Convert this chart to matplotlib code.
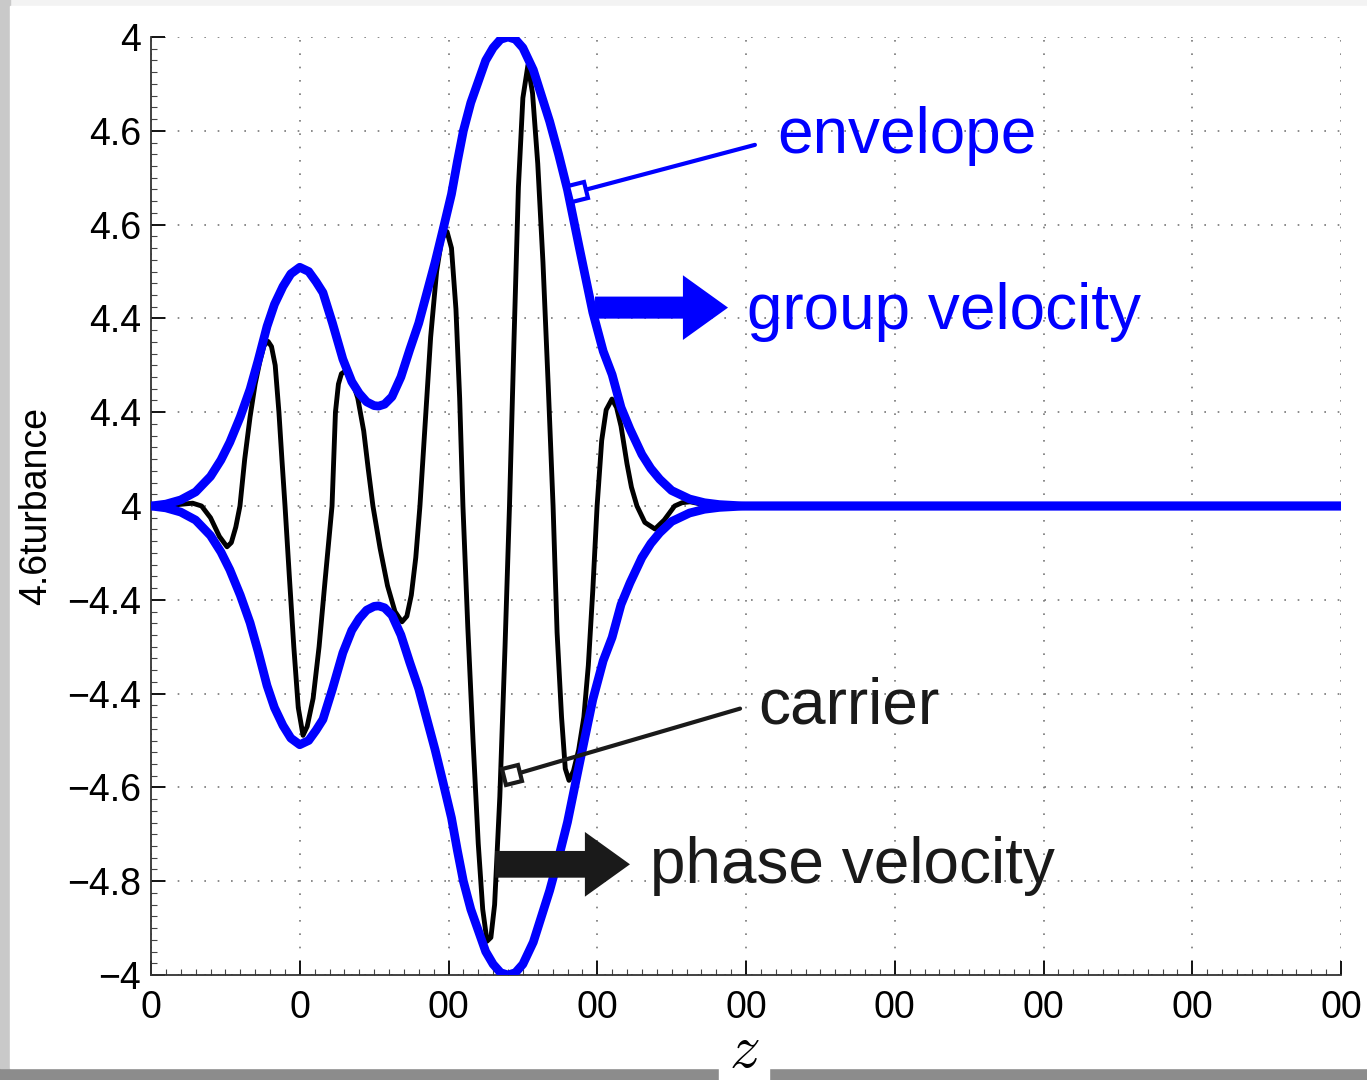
import matplotlib
matplotlib.use('Agg')
import matplotlib.pyplot as plt
from matplotlib.markers import MarkerStyle
from matplotlib.transforms import Affine2D
from matplotlib.patches import Rectangle, FancyArrow
from matplotlib.ticker import FixedLocator, AutoMinorLocator

plt.rcParams['font.family'] = ['Liberation Sans', 'DejaVu Sans']
plt.rcParams['mathtext.fontset'] = 'cm'

# upper envelope (lower one is its mirror)
env_x = [0, 1, 2, 3, 4, 4.7, 5.3, 6.0, 6.66, 7.2, 7.8, 8.3, 8.87, 9.4, 10.0, 10.6,
         11.1, 11.56, 12.2, 12.9, 13.5, 14.0, 14.5, 15.0, 15.3, 15.7, 16.2, 16.8,
         17.4, 18.0, 18.55, 19.1, 19.63, 20.2, 20.6, 21.0, 21.5, 22.0, 22.5, 23.0,
         23.5, 24.0, 24.5, 25.0, 25.7, 26.3, 26.8, 27.4, 28.0, 28.8, 29.7, 30.4,
         31.0, 31.6, 32.2, 33.0, 33.6, 34.2, 35.0, 36.2, 37.2, 38.2, 39.9, 80]
env_up = [0, 0.004, 0.013, 0.03, 0.063, 0.098, 0.136, 0.19, 0.249, 0.31, 0.383,
          0.43, 0.468, 0.495, 0.509, 0.500, 0.478, 0.455, 0.39, 0.313, 0.265, 0.24,
          0.222, 0.214, 0.213, 0.217, 0.233, 0.275, 0.334, 0.39, 0.455, 0.52, 0.589,
          0.665, 0.735, 0.80, 0.86, 0.905, 0.95, 0.977, 0.995, 1.0, 0.995, 0.977,
          0.93, 0.87, 0.82, 0.75, 0.674, 0.55, 0.413, 0.33, 0.28, 0.21, 0.164, 0.11,
          0.08, 0.057, 0.033, 0.015, 0.007, 0.003, 0.0, 0.0]
env_low = [-v for v in env_up]

# carrier
car_x = [0, 1.0, 1.8, 2.8, 3.4, 4.0, 4.6, 5.11, 5.4, 5.7, 5.98,
         6.3, 6.66, 7.0, 7.33, 7.6, 7.87, 8.1, 8.35, 8.6, 8.8, 9.01,
         9.3, 9.6, 9.9, 10.22, 10.5, 10.9, 11.3, 11.7, 12.17,
         12.4, 12.6, 12.8, 13.04, 13.3, 13.6, 13.9, 14.3, 14.6, 14.92,
         15.4, 15.9, 16.4, 16.87, 17.2, 17.5, 17.8, 18.08,
         18.4, 18.8, 19.2, 19.55, 19.9, 20.2, 20.5, 20.75, 20.97,
         21.3, 21.65, 22.0, 22.3, 22.59, 22.85, 23.1, 23.45, 23.8, 24.1,
         24.4, 24.7, 25.0, 25.34, 25.65, 26.0, 26.35, 26.7, 27.03,
         27.3, 27.6, 27.85, 28.1, 28.4, 28.75, 29.1, 29.4, 29.7, 29.99,
         30.3, 30.6, 30.99, 31.3, 31.6, 32.0, 32.3, 32.67,
         33.2, 33.88, 34.5, 35.2, 35.7, 36.24, 37.0, 38.2, 80]
car_y = [0, 0.001, 0.003, 0.006, 0.0, -0.025, -0.065, -0.087, -0.078, -0.045, 0.0,
         0.1, 0.19, 0.26, 0.31, 0.342, 0.351, 0.34, 0.3, 0.2, 0.1, 0.0,
         -0.15, -0.3, -0.43, -0.489, -0.47, -0.41, -0.3, -0.16, 0.0,
         0.2, 0.26, 0.282, 0.287, 0.28, 0.26, 0.23, 0.16, 0.08, 0.0,
         -0.09, -0.17, -0.225, -0.247, -0.235, -0.19, -0.11, 0.0,
         0.16, 0.36, 0.5, 0.57, 0.585, 0.55, 0.42, 0.23, 0.0,
         -0.26, -0.5, -0.72, -0.86, -0.928, -0.92, -0.85, -0.62, -0.3, 0.0,
         0.35, 0.68, 0.87, 0.94, 0.88, 0.73, 0.52, 0.26, 0.0,
         -0.27, -0.45, -0.56, -0.585, -0.565, -0.52, -0.45, -0.34, -0.18, 0.0,
         0.14, 0.205, 0.228, 0.21, 0.17, 0.09, 0.04, 0.0,
         -0.035, -0.049, -0.03, 0.0, 0.007, 0.009, 0.004, 0.0, 0.0]

x_ticks = [0, 10, 20, 30, 40, 50, 60, 70, 80]
x_labels = ['0', '0', '00', '00', '00', '00', '00', '00', '00']
y_ticks = [-1, -0.8, -0.6, -0.4, -0.2, 0, 0.2, 0.4, 0.6, 0.8, 1]
y_labels = ['\u22124', '\u22124.8', '\u22124.6', '\u22124.4', '\u22124.4', '4',
            '4.4', '4.4', '4.6', '4.6', '4']

W, H = 1367, 1080
fig = plt.figure(figsize=(W / 100, H / 100), dpi=100)
fig.patch.set_facecolor('#f3f3f3')
# page with a drop shadow
fig.add_artist(Rectangle((0, 0), 1, 12 / H, transform=fig.transFigure,
                         color='#8c8c8c', zorder=-10))
fig.add_artist(Rectangle((0, 12 / H), 10 / W, 1, transform=fig.transFigure,
                         color='#c9c9c9', zorder=-10))
fig.add_artist(Rectangle((10 / W, 12 / H), 1, 1 - 18 / H, transform=fig.transFigure,
                         color='white', zorder=-9))
# white tab behind the z label, running down into the shadow
fig.add_artist(Rectangle((719 / W, 0), 50 / W, 50 / H, transform=fig.transFigure,
                         color='white', zorder=-8))

ax = fig.add_axes([151 / W, 1 - 975 / H, (1341 - 151) / W, (975 - 37) / H])
ax.set_facecolor('white')

ax.plot(car_x, car_y, color='black', lw=3.5, zorder=3, clip_on=True,
        solid_capstyle='butt', solid_joinstyle='round')
ax.plot(env_x, env_up, color='#0000ff', lw=6.3, zorder=4, clip_on=True,
        solid_capstyle='butt', solid_joinstyle='round')
ax.plot(env_x, env_low, color='#0000ff', lw=6.3, zorder=4, clip_on=True,
        solid_capstyle='butt', solid_joinstyle='round')

ax.set_xlim(0, 80)
ax.set_ylim(-1, 1)
ax.xaxis.set_major_locator(FixedLocator(x_ticks))
ax.set_xticklabels(x_labels)
ax.yaxis.set_major_locator(FixedLocator(y_ticks))
ax.set_yticklabels(y_labels)
ax.xaxis.set_minor_locator(AutoMinorLocator(10))
ax.yaxis.set_minor_locator(AutoMinorLocator(8))
ax.tick_params(which='major', direction='in', length=10, width=1.3,
               labelsize=27, colors='black')
ax.tick_params(axis='x', which='major', pad=11)
ax.tick_params(axis='y', which='major', pad=7)
ax.tick_params(which='minor', direction='in', length=4, width=0.8, color='#444444')
ax.grid(True, which='major', color='#777777', lw=1.2, ls=(0, (1, 7)))
for s in ['top', 'right']:
    ax.spines[s].set_visible(False)
for s in ['left', 'bottom']:
    ax.spines[s].set_linewidth(1.3)
    ax.spines[s].set_color('#333333')

ax.set_ylabel('4.6turbance', fontsize=27)
ax.yaxis.set_label_coords((54 - 151) / 1190, 0.5)

blue = '#0000ff'
dark = '#1a1a1a'

# envelope callout
ax.annotate('', xy=(28.7, 0.670), xytext=(40.6, 0.770),
            arrowprops=dict(arrowstyle='-', color=blue, lw=3, shrinkA=0, shrinkB=0),
            zorder=5)
ax.plot([28.7], [0.670], marker=MarkerStyle('s', transform=Affine2D().rotate_deg(15)),
        ms=12, mec=blue, mfc='white', mew=3, zorder=6)
ax.text(42.1, 0.753, 'envelope', color=blue, fontsize=46, va='baseline')

# group velocity arrow
ax.add_patch(FancyArrow(29.85, 0.423, 8.94, 0, width=0.047, head_width=0.138,
                        head_length=3.03, length_includes_head=True, color=blue,
                        lw=0, zorder=5))
ax.text(40.07, 0.377, 'group velocity', color=blue, fontsize=46, va='baseline')

# carrier callout
ax.annotate('', xy=(24.27, -0.574), xytext=(39.6, -0.432),
            arrowprops=dict(arrowstyle='-', color=dark, lw=3, shrinkA=0, shrinkB=0),
            zorder=5)
ax.plot([24.27], [-0.574], marker=MarkerStyle('s', transform=Affine2D().rotate_deg(16)),
        ms=12, mec=dark, mfc='white', mew=3, zorder=6)
ax.text(40.8, -0.464, 'carrier', color=dark, fontsize=46, va='baseline')

# phase velocity arrow
ax.add_patch(FancyArrow(23.13, -0.764, 9.07, 0, width=0.057, head_width=0.138,
                        head_length=3.03, length_includes_head=True, color=dark,
                        lw=0, zorder=5))
ax.text(33.55, -0.804, 'phase velocity', color=dark, fontsize=46, va='baseline')

fig.text(744 / W, 1 - 1052 / H, '$z$', fontsize=44, ha='center', va='center')

fig.savefig('out.png', dpi=100, facecolor=fig.get_facecolor())
